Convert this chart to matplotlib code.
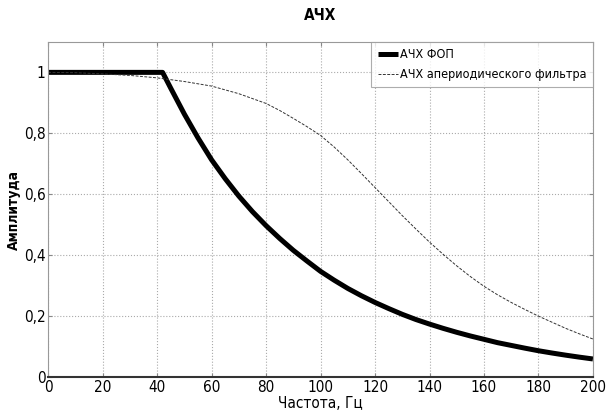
import matplotlib
matplotlib.use("Agg")
import matplotlib.pyplot as plt
from matplotlib import font_manager

# АЧХ ФОП (thick curve)
f_fop = [0, 20, 42, 45, 50, 55, 60, 65, 70, 75, 80, 85, 90, 95, 100, 105, 110, 115, 120,
         125, 130, 135, 140, 145, 150, 155, 160, 165, 170, 175, 180, 185, 190, 195, 200]
a_fop = [1.0, 1.0, 1.0, 0.948, 0.863, 0.785, 0.713, 0.651, 0.594, 0.543, 0.497, 0.455,
         0.416, 0.381, 0.347, 0.318, 0.291, 0.267, 0.245, 0.225, 0.206, 0.189, 0.174,
         0.160, 0.147, 0.135, 0.124, 0.113, 0.104, 0.095, 0.0865, 0.079, 0.072, 0.0655, 0.0595]

# АЧХ апериодического фильтра (thin dashed curve)
f_ap = [0, 10, 20, 30, 40, 50, 60, 70, 80, 85, 90, 95, 100, 105, 110, 115, 120, 125, 130, 135,
        140, 145, 150, 155, 160, 165, 170, 175, 180, 185, 190, 195, 200]
a_ap = [1.0, 0.999, 0.995, 0.99, 0.982, 0.97, 0.955, 0.93, 0.898, 0.875, 0.849, 0.822, 0.793,
        0.755, 0.713, 0.668, 0.622, 0.576, 0.53, 0.486, 0.443, 0.403, 0.365, 0.33, 0.298,
        0.27, 0.245, 0.222, 0.2, 0.18, 0.16, 0.142, 0.125]

xticks = list(range(0, 201, 20))
yticks = [0, 0.2, 0.4, 0.6, 0.8, 1.0]
ytick_labels = ["0", "0,2", "0,4", "0,6", "0,8", "1"]

names = {f.name for f in font_manager.fontManager.ttflist}
if 'Liberation Sans Narrow' in names:
    plt.rcParams['font.family'] = ['Liberation Sans Narrow', 'DejaVu Sans']
else:
    plt.rcParams['font.family'] = ['DejaVu Sans']
    plt.rcParams['font.stretch'] = 'condensed'

fig = plt.figure(figsize=(6.1, 4.19), dpi=100)
ax = fig.add_axes([0.079, 0.1, 0.893, 0.8])

ax.plot(f_fop, a_fop, color='black', lw=3.6, label='АЧХ ФОП', solid_capstyle='butt')
ax.plot(f_ap, a_ap, color='#333333', lw=0.7, ls=(0, (3, 1.5)), label='АЧХ апериодического фильтра')

ax.set_xlim(0, 200)
ax.set_ylim(0, 1.1)
ax.set_xticks(xticks)
ax.set_yticks(yticks)
ax.set_yticklabels(ytick_labels)
ax.tick_params(direction='in', length=3, labelsize=11, color='#888888',
               top=True, right=True, pad=2)
ax.grid(True, color='#aaaaaa', ls=':', lw=0.8)

for s in ['top', 'right', 'left']:
    ax.spines[s].set_color('#999999')
    ax.spines[s].set_linewidth(0.8)
ax.spines['bottom'].set_color('#333333')
ax.spines['bottom'].set_linewidth(1.5)

ax.set_title('АЧХ', fontsize=11, fontweight='bold', pad=16)
ax.set_xlabel('Частота, Гц', fontsize=11, labelpad=1)
ax.set_ylabel('Амплитуда', fontsize=10, fontweight='bold', labelpad=2)

leg = ax.legend(loc='upper right', fontsize=9, frameon=True, fancybox=False,
                borderaxespad=0, handlelength=1.6, handletextpad=0.2,
                borderpad=0.5, labelspacing=0.55)
leg.get_frame().set_edgecolor('#999999')
leg.get_frame().set_linewidth(0.8)

fig.savefig('out.png', dpi=100)
